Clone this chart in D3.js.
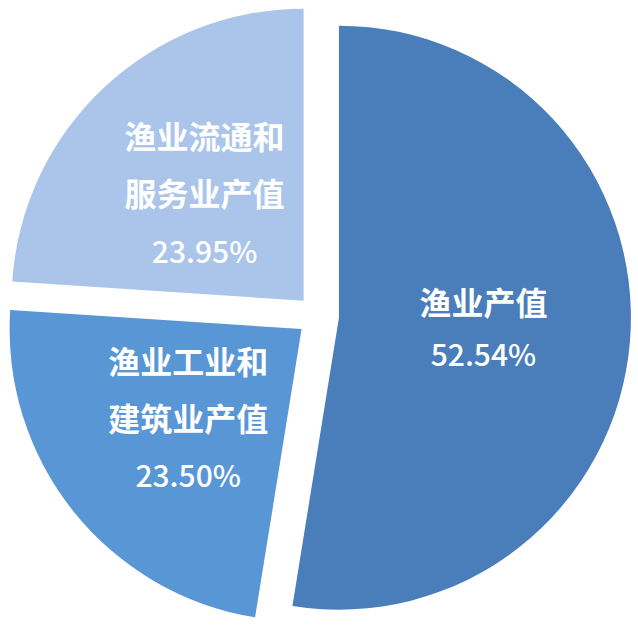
<!DOCTYPE html>
<html>
<head>
<meta charset="utf-8">
<script src="https://cdn.jsdelivr.net/npm/d3@7"></script>
<style>
    html, body { margin: 0; padding: 0; background: #fff; }
    svg text { font-family: "Noto Sans CJK SC", "Noto Sans", sans-serif; fill: #fff; }
</style>
</head>
<body>
<div id="chart"></div>
<script>
(function() {
    'use strict';

    // Data
    var names = ['渔业产值', '渔业工业和建筑业产值', '渔业流通和服务业产值'];
    var values = [52.54, 23.50, 23.95];
    var labelLines = [
        ['渔业产值'],
        ['渔业工业和', '建筑业产值'],
        ['渔业流通和', '服务业产值']
    ];
    var colors = ['#4a7eba', '#5896d6', '#aac5e9'];

    var width = 638, height = 632;
    var cx = 318, cy = 316;
    var radius = 292;
    var explode = 21;

    var svg = d3.select('#chart').append('svg')
        .attr('width', width)
        .attr('height', height);

    var pie = d3.pie().sort(null).value(function(d) { return d; });
    var arcs = pie(values);

    var arc = d3.arc().innerRadius(0).outerRadius(radius);
    var labelArc = d3.arc().innerRadius(0).outerRadius(290);

    var g = svg.append('g').attr('transform', 'translate(' + cx + ',' + cy + ')');

    var slice = g.selectAll('.slice')
        .data(arcs)
        .join('g')
        .attr('class', 'slice')
        .attr('transform', function(d) {
            var mid = (d.startAngle + d.endAngle) / 2;
            return 'translate(' + (Math.sin(mid) * explode) + ',' + (-Math.cos(mid) * explode) + ')';
        });

    slice.append('path')
        .attr('d', arc)
        .attr('fill', function(d, i) { return colors[i]; });

    // Labels: name lines + percentage
    slice.each(function(d, i) {
        var c = labelArc.centroid(d);
        var lines = labelLines[i];
        var step = lines.length > 1 ? 57 : 52;
        var total = lines.length + 1;
        var y0 = c[1] - (total - 1) * step / 2;
        var t = d3.select(this);
        lines.forEach(function(line, k) {
            t.append('text')
                .attr('x', c[0])
                .attr('y', y0 + k * step)
                .attr('dy', '0.36em')
                .attr('text-anchor', 'middle')
                .attr('font-size', 32)
                .attr('font-weight', 700)
                .text(line);
        });
        t.append('text')
            .attr('x', c[0])
            .attr('y', y0 + lines.length * step)
            .attr('dy', '0.36em')
            .attr('text-anchor', 'middle')
            .attr('font-size', 30)
            .attr('font-weight', 500)
            .text(values[i].toFixed(2) + '%');
    });
})();
</script>
</body>
</html>
